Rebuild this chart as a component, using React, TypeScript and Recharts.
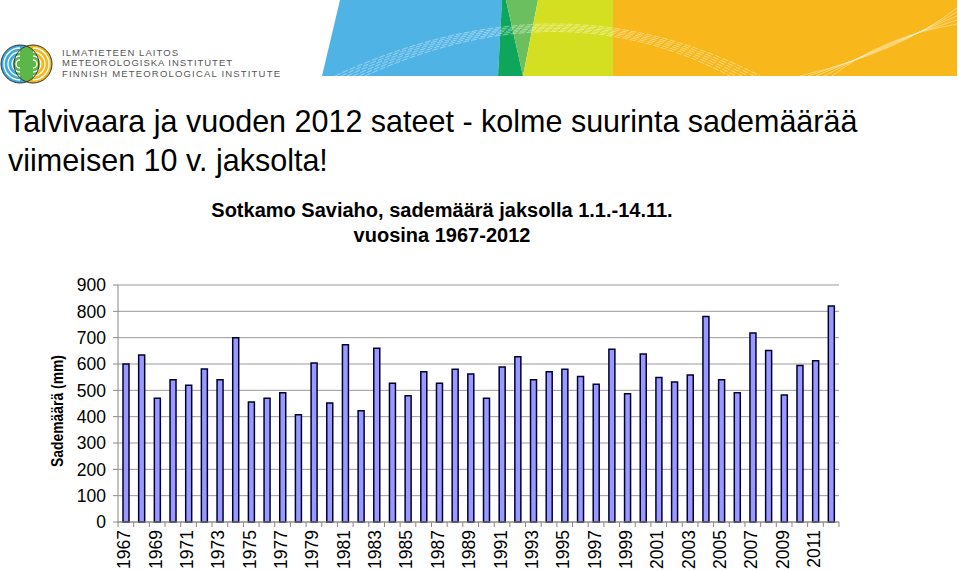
import React from "react";
import { BarChart, Bar, XAxis, YAxis, CartesianGrid } from "recharts";

// Sotkamo Saviaho, sademäärä 1.1.-14.11. (mm)
const years = [
  "1967", "1968", "1969", "1970", "1971", "1972", "1973", "1974", "1975", "1976",
  "1977", "1978", "1979", "1980", "1981", "1982", "1983", "1984", "1985", "1986",
  "1987", "1988", "1989", "1990", "1991", "1992", "1993", "1994", "1995", "1996",
  "1997", "1998", "1999", "2000", "2001", "2002", "2003", "2004", "2005", "2006",
  "2007", "2008", "2009", "2010", "2011", "2012",
];
const rainfall = [
  600, 634, 470, 540, 519, 581, 540, 700, 456, 470,
  491, 407, 604, 452, 673, 422, 660, 527, 479, 571,
  527, 580, 562, 470, 589, 628, 540, 571, 580, 553,
  523, 656, 487, 638, 549, 532, 558, 780, 540, 491,
  718, 651, 482, 594, 612, 820,
];
const yTicks = [0, 100, 200, 300, 400, 500, 600, 700, 800, 900];

const data = years.map((y, i) => ({ year: y, mm: rainfall[i] }));

const W = 959;
const H = 571;
const PLOT_LEFT = 118;
const PLOT_RIGHT = 839;
const PLOT_TOP = 285;
const PLOT_BOTTOM = 522;
const BAND = (PLOT_RIGHT - PLOT_LEFT) / years.length;
const FONT = "'Liberation Sans', Arial, Helvetica, sans-serif";

const YearTick = (props: any) => {
  const { x, index, payload } = props;
  const left = x - BAND / 2;
  return (
    <g>
      <line x1={left} x2={left} y1={PLOT_BOTTOM} y2={PLOT_BOTTOM + 5} stroke="#888" />
      {index === years.length - 1 && (
        <line x1={left + BAND} x2={left + BAND} y1={PLOT_BOTTOM} y2={PLOT_BOTTOM + 5} stroke="#888" />
      )}
      {index % 2 === 0 && (
        <text
          transform={`translate(${x + 4.5},${PLOT_BOTTOM + 8}) rotate(-90)`}
          textAnchor="end"
          fontSize={17.5}
          fontFamily={FONT}
          fill="#000"
        >
          {payload.value}
        </text>
      )}
    </g>
  );
};

function Header() {
  return (
    <svg width={W} height={H} style={{ position: "absolute", left: 0, top: 0 }}>
      <defs>
        <clipPath id="blueC">
          <circle cx={20} cy={64} r={19} />
        </clipPath>
      </defs>
      {/* banner */}
      <polygon points="340,0 502,0 498,76 322,76" fill="#4fb3e6" />
      <polygon points="502,0 506,0 523,76 498,76" fill="#0ea65b" />
      <polygon points="506,0 538,0 523,76" fill="#6bbf5f" />
      <polygon points="538,0 613,0 613,76 523,76" fill="#d4df22" />
      <polygon points="613,0 957,0 957,76 613,76" fill="#f8b81b" />
      {[0, 3, 6, 9, 12, 15].map((d) => (
        <path
          key={"a" + d}
          d={`M ${335 + d * 2} 76 Q ${560} ${-28 + d} ${760 - d * 2} 76`}
          fill="none"
          stroke="#fff"
          strokeOpacity={0.55}
          strokeWidth={0.8}
          strokeDasharray="6 2"
        />
      ))}
      {[0, 4, 8, 12, 16].map((d) => (
        <path
          key={"b" + d}
          d={`M ${800 + d * 2} 76 Q ${900 - d} ${52 - d} ${957} ${8 + d}`}
          fill="none"
          stroke="#fff"
          strokeOpacity={0.5}
          strokeWidth={0.8}
        />
      ))}
      {/* logo */}
      <circle cx={20} cy={64} r={19} fill="#3ea9df" />
      <circle cx={33} cy={64} r={19} fill="#f6b51c" />
      <circle cx={33} cy={64} r={19} fill="#5cb749" clipPath="url(#blueC)" />
      {[4, 8, 12, 16].map((r) => (
        <g key={r}>
          <path d={`M ${20} ${64 - r} A ${r} ${r} 0 0 0 ${20} ${64 + r}`} fill="none" stroke="#fff" strokeWidth={1.3} />
          <path d={`M ${33} ${64 - r} A ${r} ${r} 0 0 1 ${33} ${64 + r}`} fill="none" stroke="#fff" strokeWidth={1.3} />
        </g>
      ))}
      <circle cx={20} cy={64} r={19} fill="none" stroke="#333" strokeWidth={1} />
      <circle cx={33} cy={64} r={19} fill="none" stroke="#333" strokeWidth={1} />
      <g fontFamily={FONT} fontSize={9.5} fill="#555" fontWeight={300}>
        <text x={62} y={56} textLength={116} lengthAdjust="spacing">ILMATIETEEN LAITOS</text>
        <text x={62} y={66} textLength={170} lengthAdjust="spacing">METEOROLOGISKA INSTITUTET</text>
        <text x={62} y={77} textLength={218} lengthAdjust="spacing">FINNISH METEOROLOGICAL INSTITUTE</text>
      </g>
      {/* slide title */}
      <g fontFamily={FONT} fontSize={30.5} fill="#000">
        <text x={8} y={132}>Talvivaara ja vuoden 2012 sateet - kolme suurinta sademäärää</text>
        <text x={8} y={171}>viimeisen 10 v. jaksolta!</text>
      </g>
      {/* chart title */}
      <g fontFamily={FONT} fontSize={20} fontWeight="bold" fill="#000" textAnchor="middle">
        <text x={442} y={217}>Sotkamo Saviaho, sademäärä jaksolla 1.1.-14.11.</text>
        <text x={442} y={242}>vuosina 1967-2012</text>
      </g>
      {/* y axis title */}
      <text
        transform="translate(63,411) rotate(-90)"
        textAnchor="middle"
        fontFamily={FONT}
        fontSize={16}
        fontWeight="bold"
        textLength={112}
        lengthAdjust="spacingAndGlyphs"
        fill="#000"
      >
        Sademäärä (mm)
      </text>
    </svg>
  );
}

export default function App() {
  return (
    <div style={{ position: "absolute", left: 0, top: 0, width: W, height: H, background: "#fff", overflow: "hidden" }}>
      <Header />
      <div style={{ position: "absolute", left: 0, top: 0 }}>
        <BarChart
          width={W}
          height={H}
          data={data}
          margin={{ top: PLOT_TOP, right: W - PLOT_RIGHT, bottom: 4, left: 57 }}
        >
          <CartesianGrid vertical={false} stroke="#999" />
          <XAxis
            dataKey="year"
            interval={0}
            height={H - 4 - PLOT_BOTTOM}
            tickLine={false}
            axisLine={{ stroke: "#888" }}
            tick={<YearTick />}
          />
          <YAxis
            domain={[0, 900]}
            ticks={yTicks}
            width={PLOT_LEFT - 57}
            tickSize={5}
            tickMargin={7}
            axisLine={{ stroke: "#888" }}
            tickLine={{ stroke: "#888" }}
            tick={{ fontSize: 17.5, fill: "#000", fontFamily: FONT }}
          />
          <Bar dataKey="mm" fill="#9999ff" stroke="#000033" strokeWidth={1.5} barSize={6} isAnimationActive={false} />
        </BarChart>
      </div>
    </div>
  );
}
